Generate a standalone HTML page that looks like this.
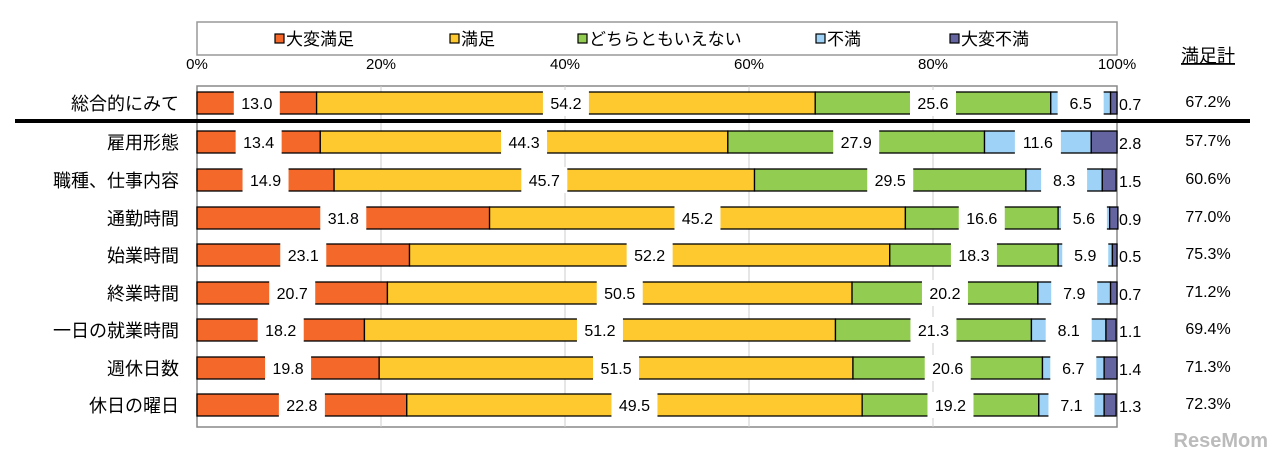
<!DOCTYPE html>
<html><head><meta charset="utf-8"><style>
body{margin:0;background:#fff;width:1280px;height:461px;overflow:hidden;font-family:"Liberation Sans","Noto Sans CJK JP",sans-serif}
svg text{font-family:"Liberation Sans","Noto Sans CJK JP",sans-serif}
</style></head><body>
<svg id="c" width="1280" height="461"></svg>
<script>
const categories=["総合的にみて","雇用形態","職種、仕事内容","通勤時間","始業時間","終業時間","一日の就業時間","週休日数","休日の曜日"];
const verySatisfied=[13.0,13.4,14.9,31.8,23.1,20.7,18.2,19.8,22.8];
const satisfied=[54.2,44.3,45.7,45.2,52.2,50.5,51.2,51.5,49.5];
const neutral=[25.6,27.9,29.5,16.6,18.3,20.2,21.3,20.6,19.2];
const dissatisfied=[6.5,11.6,8.3,5.6,5.9,7.9,8.1,6.7,7.1];
const veryDissatisfied=[0.7,2.8,1.5,0.9,0.5,0.7,1.1,1.4,1.3];
const totals=["67.2%","57.7%","60.6%","77.0%","75.3%","71.2%","69.4%","71.3%","72.3%"];
const seriesNames=["大変満足","満足","どちらともいえない","不満","大変不満"];
const ticks=[0,20,40,60,80,100];
const colors=["#f4692a","#fdc92f","#92cd52","#9ed2f7","#6464a0"];
const NS="http://www.w3.org/2000/svg";
const svg=document.getElementById('c');
const X0=197,X1=1117;
const x=v=>X0+(X1-X0)*v/100;
const rowY=[103,142,180,218,255,293,330,368,405];
const y=i=>rowY[i];
function el(t,a,p){const e=document.createElementNS(NS,t);for(const k in a)e.setAttribute(k,a[k]);(p||svg).appendChild(e);return e;}
const lg=el('rect',{x:197,y:22,width:920,height:33,fill:'#fff',stroke:'#999','stroke-width':1.5});

const lx=[275,450,578,816,950];
seriesNames.forEach((n,i)=>{
 const g=el('g',{});
 
 el('rect',{x:lx[i],y:34,width:9,height:9,fill:colors[i],stroke:'#000','stroke-width':1.2},g);
 const t=el('text',{x:lx[i]+11,y:45,'font-size':17,fill:'#000'},g);t.textContent=n;
});
const fr=el('rect',{x:X0,y:86,width:X1-X0,height:341,fill:'#fff',stroke:'#888','stroke-width':1.5});

ticks.forEach(t=>{
 if(t>0&&t<100){const l=el('line',{x1:x(t),x2:x(t),y1:86,y2:427,stroke:'#ccc'});}
 const tx=el('text',{x:x(t),y:69,'font-size':15,'text-anchor':'middle',fill:'#000'});
 
 tx.textContent=t+'%';
});
const h=el('text',{x:1208,y:62,'font-size':18,'text-anchor':'middle','text-decoration':'underline',fill:'#000'});
h.textContent='満足計';
const sep=el('line',{x1:15,x2:1250,y1:121,y2:121,stroke:'#000','stroke-width':4});

const data=[verySatisfied,satisfied,neutral,dissatisfied,veryDissatisfied];
categories.forEach((c,i)=>{
 const cy=y(i),bh=22;
 const lab=el('text',{x:179,y:cy+7,'font-size':18,'text-anchor':'end',fill:'#000'});
 lab.textContent=c;
 let acc=0;
 const segs=[];
 data.forEach((s,k)=>{
  const v=s[i];
  const r=el('rect',{x:x(acc),y:cy-bh/2,width:x(acc+v)-x(acc),height:bh,fill:colors[k],stroke:'#000','stroke-width':1.3});
  
  segs.push([acc,v]);acc+=v;
 });
 segs.forEach(([a,v],k)=>{
  const s=data[k][i].toFixed(1);
  if(k<4){
   const cx=x(a+v/2);
   const b=el('rect',{x:cx-23,y:cy-bh/2-2,width:46,height:bh+4,fill:'#fff'});
   
   const t=el('text',{x:cx,y:cy+6,'font-size':16,'text-anchor':'middle',fill:'#000'});
   t.textContent=s;
  } else {
   const t=el('text',{x:x(100)+2,y:cy+7,'font-size':16,fill:'#000'});
   t.textContent=s;
  }
 });
 const tt=el('text',{x:1208,y:cy+4,'font-size':16,'text-anchor':'middle',fill:'#000'});
 tt.textContent=totals[i];
});
const wm=el('text',{x:1268,y:447,'font-size':20,'font-weight':'bold','text-anchor':'end',fill:'#bbb'});
wm.textContent='ReseMom';
</script>
</body></html>
